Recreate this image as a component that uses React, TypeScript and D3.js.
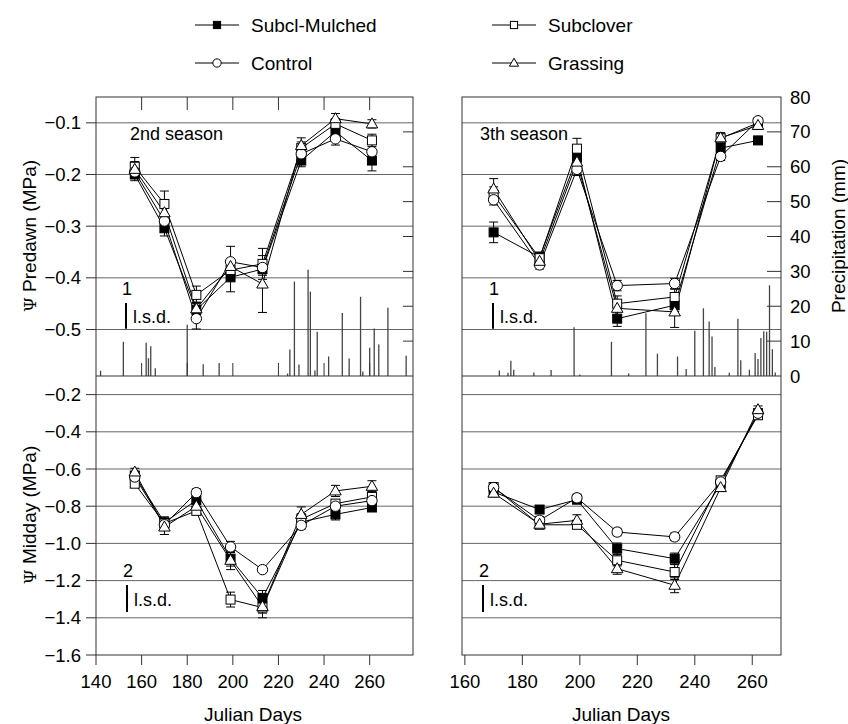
import React from "react";
import * as d3 from "d3";

// ---------- DATA ----------
const seriesNames = ["Subcl-Mulched", "Subclover", "Control", "Grassing"];
const seriesShapes = ["filledSquare", "openSquare", "circle", "triangle"];

const daysSeason2 = [157, 170, 184, 199, 213, 230, 245, 261];
const daysSeason3 = [170, 186, 199, 213, 233, 249, 262];

// Predawn, 2nd season
const pd2Mulched = [-0.2, -0.304, -0.462, -0.399, -0.383, -0.173, -0.117, -0.173];
const pd2Subclover = [-0.185, -0.257, -0.433, -0.385, -0.373, -0.149, -0.102, -0.134];
const pd2Control = [-0.195, -0.29, -0.479, -0.369, -0.38, -0.16, -0.131, -0.156];
const pd2Grassing = [-0.19, -0.274, -0.46, -0.378, -0.412, -0.144, -0.092, -0.102];
const pd2ErrMulched = [0.012, 0.015, 0.015, 0.028, 0.012, 0.012, 0.01, 0.02];
const pd2ErrSubclover = [0.018, 0.025, 0.017, 0.015, 0.03, 0.012, 0.01, 0.012];
const pd2ErrControl = [0.012, 0.012, 0.02, 0.03, 0.012, 0.01, 0.012, 0.015];
const pd2ErrGrassing = [0.015, 0.012, 0.012, 0.015, 0.055, 0.015, 0.01, 0.008];

// Predawn, 3th season
const pd3Mulched = [-0.312, -0.36, -0.167, -0.479, -0.453, -0.149, -0.134];
const pd3Subclover = [-0.239, -0.362, -0.15, -0.45, -0.437, -0.13, -0.1];
const pd3Control = [-0.249, -0.375, -0.19, -0.415, -0.411, -0.165, -0.096];
const pd3Grassing = [-0.228, -0.368, -0.176, -0.459, -0.466, -0.129, -0.105];
const pd3ErrMulched = [0.02, 0.01, 0.01, 0.015, 0.012, 0.01, 0.005];
const pd3ErrSubclover = [0.015, 0.01, 0.02, 0.015, 0.015, 0.01, 0.005];
const pd3ErrControl = [0.01, 0.008, 0.012, 0.01, 0.01, 0.008, 0.005];
const pd3ErrGrassing = [0.02, 0.01, 0.012, 0.015, 0.03, 0.01, 0.008];

// Midday, 2nd season
const md2Mulched = [-0.635, -0.887, -0.768, -1.082, -1.293, -0.885, -0.844, -0.807];
const md2Subclover = [-0.679, -0.893, -0.825, -1.302, -1.345, -0.87, -0.786, -0.75];
const md2Control = [-0.643, -0.9, -0.727, -1.019, -1.141, -0.903, -0.8, -0.77];
const md2Grassing = [-0.616, -0.912, -0.8, -1.091, -1.34, -0.844, -0.718, -0.693];
const md2ErrMulched = [0.02, 0.03, 0.02, 0.04, 0.04, 0.03, 0.03, 0.02];
const md2ErrSubclover = [0.02, 0.03, 0.02, 0.04, 0.03, 0.03, 0.02, 0.03];
const md2ErrControl = [0.02, 0.02, 0.02, 0.03, 0.015, 0.02, 0.02, 0.02];
const md2ErrGrassing = [0.02, 0.04, 0.02, 0.05, 0.06, 0.04, 0.03, 0.03];

// Midday, 3th season
const md3Mulched = [-0.724, -0.818, -0.765, -1.028, -1.082, -0.68, -0.3];
const md3Subclover = [-0.697, -0.9, -0.9, -1.091, -1.154, -0.661, -0.311];
const md3Control = [-0.7, -0.876, -0.755, -0.939, -0.965, -0.67, -0.3];
const md3Grassing = [-0.73, -0.897, -0.876, -1.136, -1.225, -0.7, -0.281];
const md3ErrMulched = [0.02, 0.02, 0.02, 0.03, 0.03, 0.02, 0.02];
const md3ErrSubclover = [0.02, 0.02, 0.02, 0.03, 0.04, 0.02, 0.02];
const md3ErrControl = [0.02, 0.02, 0.02, 0.02, 0.02, 0.02, 0.02];
const md3ErrGrassing = [0.02, 0.02, 0.03, 0.03, 0.04, 0.02, 0.02];

// Precipitation (mm)
const rainDays2 = [142, 152, 162, 163, 164, 166, 180, 187, 194, 224, 225, 227, 229, 233, 234, 236, 237, 242, 248, 251, 256, 257, 260, 262, 264, 268, 276];
const rainMm2 = [1.5, 9.8, 9.5, 5.1, 8.5, 2.2, 14.7, 3.4, 3.7, 0.7, 7.6, 27.1, 3.3, 30.5, 24.2, 1.6, 12.7, 5.6, 18.1, 5, 22.7, 1.3, 8.1, 13.6, 9, 19.6, 5.8];
const rainDays3 = [172, 175, 176, 177, 184, 190, 198, 200, 211, 217, 223, 227, 234, 237, 240, 243, 245, 246, 247, 252, 255, 256, 259, 261, 262, 263, 264, 265, 266, 267, 268];
const rainMm3 = [1.6, 0.9, 4.4, 1.8, 1, 1.7, 14, 0.4, 9.8, 0.7, 18, 6.4, 5.6, 2, 13, 19.4, 15.6, 11.3, 2.6, 0.9, 16.4, 4.5, 1.8, 6.6, 4.9, 10.9, 12.8, 12.7, 26, 7.7, 1];

const xTicksLeft = [140, 160, 180, 200, 220, 240, 260];
const xTicksRight = [160, 180, 200, 220, 240, 260];
const predawnTicks = [-0.1, -0.2, -0.3, -0.4, -0.5];
const middayTicks = [-0.2, -0.4, -0.6, -0.8, -1.0, -1.2, -1.4, -1.6];
const precipTicks = [0, 10, 20, 30, 40, 50, 60, 70, 80];
const lsdPredawn = 0.05;
const lsdMidday = 0.145;

// ---------- LAYOUT ----------
const FONT = "Liberation Sans, Arial, sans-serif";
const L0 = 96, L1 = 413, R0 = 462, R1 = 781;
const TOP = 97, MID = 376, BOT = 655;

const xLeft = d3.scaleLinear().domain([140, 279]).range([L0, L1]);
const xRight = d3.scaleLinear().domain([159, 270]).range([R0, R1]);
const yTop = d3.scaleLinear().domain([-0.59, -0.05]).range([MID, TOP]);
const yBot = d3.scaleLinear().domain([-1.6, -0.1]).range([BOT, MID]);
const yRain = d3.scaleLinear().domain([0, 80]).range([MID, TOP]);

function Marker({ shape, x, y, s = 1 }: { shape: string; x: number; y: number; s?: number }) {
  if (shape === "filledSquare")
    return <rect x={x - 4.5 * s} y={y - 4.5 * s} width={9 * s} height={9 * s} fill="#000" stroke="#000" strokeWidth={1} />;
  if (shape === "openSquare")
    return <rect x={x - 4.5 * s} y={y - 4.5 * s} width={9 * s} height={9 * s} fill="#fff" stroke="#000" strokeWidth={1} />;
  if (shape === "circle") return <circle cx={x} cy={y} r={5.2 * s} fill="#fff" stroke="#000" strokeWidth={1} />;
  const h = 10 * s;
  const w = 11.5 * s;
  return (
    <path
      d={`M${x},${y - h * 0.6}L${x + w / 2},${y + h * 0.4}L${x - w / 2},${y + h * 0.4}Z`}
      fill="#fff"
      stroke="#000"
      strokeWidth={1}
    />
  );
}

type Series = { vals: number[]; errs: number[] };

function DataPanel({ days, series, x, y }: { days: number[]; series: Series[]; x: any; y: any }) {
  const line = d3
    .line<number>()
    .x((_, i) => x(days[i]))
    .y((v) => y(v));
  return (
    <g>
      {series.map((s, k) => (
        <path key={"l" + k} d={line(s.vals) || ""} fill="none" stroke="#000" strokeWidth={1} />
      ))}
      {series.map((s, k) => (
        <g key={"e" + k}>
          {s.vals.map((v, i) => {
            const cx = x(days[i]);
            const y1 = y(v + s.errs[i]);
            const y2 = y(v - s.errs[i]);
            return (
              <g key={i} stroke="#000" strokeWidth={1}>
                <line x1={cx} x2={cx} y1={y1} y2={y2} />
                <line x1={cx - 4.5} x2={cx + 4.5} y1={y1} y2={y1} />
                <line x1={cx - 4.5} x2={cx + 4.5} y1={y2} y2={y2} />
              </g>
            );
          })}
        </g>
      ))}
      {series.map((s, k) => (
        <g key={"m" + k}>
          {s.vals.map((v, i) => (
            <Marker key={i} shape={seriesShapes[k]} x={x(days[i])} y={y(v)} />
          ))}
        </g>
      ))}
    </g>
  );
}

function Rain({ days, mm, x }: { days: number[]; mm: number[]; x: any }) {
  return (
    <g stroke="#444" strokeWidth={1.3}>
      {days.map((d, i) => (
        <line key={i} x1={x(d)} x2={x(d)} y1={yRain(0)} y2={yRain(mm[i])} />
      ))}
    </g>
  );
}

function Lsd({ x, yTopPx, y, val, label }: { x: number; yTopPx: number; y: any; val: number; label: string }) {
  const len = Math.abs(y(0) - y(val));
  return (
    <g fontFamily={FONT} fontSize={18}>
      <text x={x - 4} y={yTopPx - 8}>{label}</text>
      <line x1={x} x2={x} y1={yTopPx} y2={yTopPx + len} stroke="#000" strokeWidth={2} />
      <text x={x + 7} y={yTopPx + len - 6}>l.s.d.</text>
    </g>
  );
}

export default function App() {
  const pd2: Series[] = [
    { vals: pd2Mulched, errs: pd2ErrMulched },
    { vals: pd2Subclover, errs: pd2ErrSubclover },
    { vals: pd2Control, errs: pd2ErrControl },
    { vals: pd2Grassing, errs: pd2ErrGrassing },
  ];
  const pd3: Series[] = [
    { vals: pd3Mulched, errs: pd3ErrMulched },
    { vals: pd3Subclover, errs: pd3ErrSubclover },
    { vals: pd3Control, errs: pd3ErrControl },
    { vals: pd3Grassing, errs: pd3ErrGrassing },
  ];
  const md2: Series[] = [
    { vals: md2Mulched, errs: md2ErrMulched },
    { vals: md2Subclover, errs: md2ErrSubclover },
    { vals: md2Control, errs: md2ErrControl },
    { vals: md2Grassing, errs: md2ErrGrassing },
  ];
  const md3: Series[] = [
    { vals: md3Mulched, errs: md3ErrMulched },
    { vals: md3Subclover, errs: md3ErrSubclover },
    { vals: md3Control, errs: md3ErrControl },
    { vals: md3Grassing, errs: md3ErrGrassing },
  ];

  const legendPos = [
    { x: 195, y: 25 },
    { x: 492, y: 25 },
    { x: 195, y: 63 },
    { x: 492, y: 63 },
  ];

  return (
    <svg
      width={848}
      height={724}
      style={{ position: "absolute", left: 0, top: 0, background: "#fff" }}
      fontFamily={FONT}
    >
      <rect width={848} height={724} fill="#fff" />

      {/* Legend */}
      {seriesNames.map((n, k) => {
        const p = legendPos[k];
        return (
          <g key={n}>
            <line x1={p.x} x2={p.x + 44} y1={p.y} y2={p.y} stroke="#000" strokeWidth={1} />
            <Marker shape={seriesShapes[k]} x={p.x + 22} y={p.y} s={0.8} />
            <text x={p.x + 56} y={p.y + 7} fontSize={19}>{n}</text>
          </g>
        );
      })}

      {/* Grid lines */}
      <g stroke="#666" strokeWidth={1}>
        {predawnTicks.map((t) => (
          <g key={"gt" + t}>
            <line x1={L0} x2={L1} y1={yTop(t)} y2={yTop(t)} />
            <line x1={R0} x2={R1} y1={yTop(t)} y2={yTop(t)} />
          </g>
        ))}
        {middayTicks
          .filter((t) => t > -1.55)
          .map((t) => (
            <g key={"gb" + t}>
              <line x1={L0} x2={L1} y1={yBot(t)} y2={yBot(t)} />
              <line x1={R0} x2={R1} y1={yBot(t)} y2={yBot(t)} />
            </g>
          ))}
      </g>

      {/* Precipitation */}
      <Rain days={rainDays2} mm={rainMm2} x={xLeft} />
      <Rain days={rainDays3} mm={rainMm3} x={xRight} />

      {/* Frames */}
      <g fill="none" stroke="#333" strokeWidth={1}>
        <rect x={L0} y={TOP} width={L1 - L0} height={BOT - TOP} />
        <rect x={R0} y={TOP} width={R1 - R0} height={BOT - TOP} />
        <line x1={L0} x2={L1} y1={MID} y2={MID} />
        <line x1={R0} x2={R1} y1={MID} y2={MID} />
      </g>

      {/* Ticks */}
      <g stroke="#333" strokeWidth={1}>
        {xTicksLeft.map((t) => (
          <g key={"xl" + t}>
            <line x1={xLeft(t)} x2={xLeft(t)} y1={BOT} y2={BOT + 10} />
            {t > 140 && <line x1={xLeft(t)} x2={xLeft(t)} y1={TOP} y2={TOP + 13} />}
            {t > 140 && <line x1={xLeft(t)} x2={xLeft(t)} y1={MID} y2={MID - 13} />}
          </g>
        ))}
        {xTicksRight.map((t) => (
          <line key={"xr" + t} x1={xRight(t)} x2={xRight(t)} y1={BOT} y2={BOT + 10} />
        ))}
        {predawnTicks.map((t) => (
          <line key={"yt" + t} x1={L0 - 10} x2={L0} y1={yTop(t)} y2={yTop(t)} />
        ))}
        {middayTicks.map((t) => (
          <line key={"yb" + t} x1={L0 - 10} x2={L0} y1={yBot(t)} y2={yBot(t)} />
        ))}
        {precipTicks
          .filter((t) => t > 0 && t < 80)
          .map((t) => (
            <g key={"pr" + t}>
              <line x1={R1 - 14} x2={R1} y1={yRain(t)} y2={yRain(t)} />
              <line x1={L1 - 10} x2={L1} y1={yRain(t)} y2={yRain(t)} />
            </g>
          ))}
      </g>

      {/* Tick labels */}
      <g fontSize={18.5} fill="#000">
        {xTicksLeft.map((t) => (
          <text key={"lxl" + t} x={xLeft(t)} y={688} textAnchor="middle">{t}</text>
        ))}
        {xTicksRight.map((t) => (
          <text key={"lxr" + t} x={xRight(t)} y={688} textAnchor="middle">{t}</text>
        ))}
        {predawnTicks.map((t) => (
          <text key={"lyt" + t} x={81} y={yTop(t) + 6.5} textAnchor="end">{d3.format(".1f")(t)}</text>
        ))}
        {middayTicks.map((t) => (
          <text key={"lyb" + t} x={81} y={yBot(t) + 6.5} textAnchor="end">{d3.format(".1f")(t)}</text>
        ))}
        {precipTicks.map((t) => (
          <text key={"lp" + t} x={790} y={yRain(t) + 6.5}>{t}</text>
        ))}
      </g>

      {/* Axis titles */}
      <g fontSize={19}>
        <text x={253} y={721} textAnchor="middle">Julian Days</text>
        <text x={621} y={721} textAnchor="middle">Julian Days</text>
        <text transform={`translate(845,236) rotate(-90)`} textAnchor="middle">Precipitation (mm)</text>
        <text transform={`translate(36,236) rotate(-90)`} textAnchor="middle">
          <tspan fontFamily="DejaVu Serif, serif" fontSize={17}>Ψ</tspan> Predawn (MPa)
        </text>
        <text transform={`translate(36,515) rotate(-90)`} textAnchor="middle">
          <tspan fontFamily="DejaVu Serif, serif" fontSize={17}>Ψ</tspan> Midday (MPa)
        </text>
      </g>

      {/* Season labels */}
      <text x={130} y={140} fontSize={18}>2nd season</text>
      <text x={480} y={140} fontSize={18}>3th season</text>

      {/* l.s.d. */}
      <Lsd x={126} yTopPx={303} y={yTop} val={lsdPredawn} label="1" />
      <Lsd x={493} yTopPx={303} y={yTop} val={lsdPredawn} label="1" />
      <Lsd x={127} yTopPx={585} y={yBot} val={lsdMidday} label="2" />
      <Lsd x={483} yTopPx={585} y={yBot} val={lsdMidday} label="2" />

      {/* Data */}
      <DataPanel days={daysSeason2} series={pd2} x={xLeft} y={yTop} />
      <DataPanel days={daysSeason3} series={pd3} x={xRight} y={yTop} />
      <DataPanel days={daysSeason2} series={md2} x={xLeft} y={yBot} />
      <DataPanel days={daysSeason3} series={md3} x={xRight} y={yBot} />
    </svg>
  );
}
